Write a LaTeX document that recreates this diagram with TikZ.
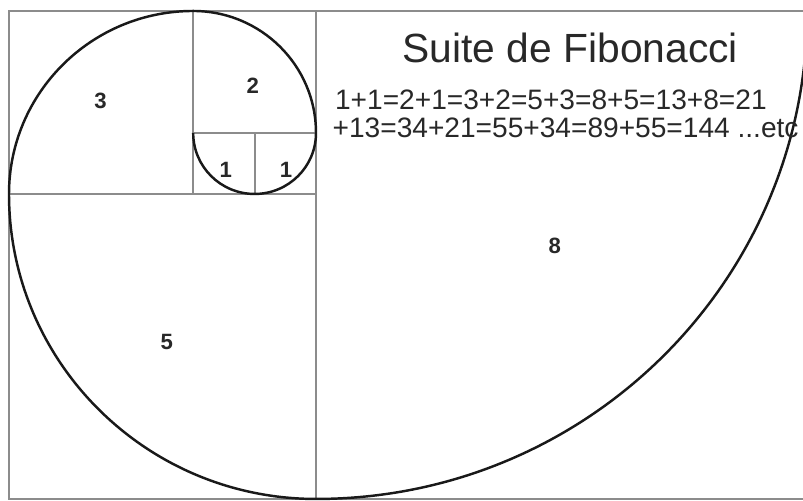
\documentclass[tikz,border=0pt]{standalone}
\usepackage{fontspec}
\setmainfont{Liberation Sans}
\definecolor{framegray}{RGB}{140,140,140}
\definecolor{inkgray}{RGB}{40,40,40}
\begin{document}
\begin{tikzpicture}[x=0.614cm,y=0.61cm,
  grid line/.style={draw=framegray,line width=0.6pt},
  spiral line/.style={draw=black!90,line width=0.7pt},
  sqlabel/.style={inner sep=0pt,text=inkgray,font=\fontsize{6.3}{7}\selectfont\bfseries},
  eqtext/.style={inner sep=0pt,anchor=base west,text=inkgray,font=\fontsize{8}{9.6}\selectfont},
  titletext/.style={inner sep=0pt,anchor=base west,text=inkgray,font=\fontsize{11.6}{14}\selectfont}]
\useasboundingbox (-0.1466,-0.0328) rectangle (12.932,8.180);
% squares
\draw[grid line] (0,0) rectangle (13,8);
\draw[grid line] (5,0) -- (5,8);
\draw[grid line] (0,5) -- (5,5);
\draw[grid line] (3,5) -- (3,8);
\draw[grid line] (3,6) -- (5,6);
\draw[grid line] (4,5) -- (4,6);
% spiral
\draw[spiral line] (13,8) arc[start angle=0,end angle=-90,radius=8]
  arc[start angle=-90,end angle=-180,radius=5]
  arc[start angle=180,end angle=90,radius=3]
  arc[start angle=90,end angle=0,radius=2]
  arc[start angle=0,end angle=-180,radius=1];
% square labels
\node[sqlabel] (l3) at (1.49,6.52) {3};
\node[sqlabel] (l2) at (3.97,6.77) {2};
\node[sqlabel] (l1a) at (3.53,5.39) {1};
\node[sqlabel] (l1b) at (4.51,5.39) {1};
\node[sqlabel] (l8) at (8.89,4.15) {8};
\node[sqlabel] (l5) at (2.57,2.57) {5};
% texts
\node[titletext] (title) at (6.40,7.15) {Suite de Fibonacci};
\node[eqtext] (eq1) at (5.30,6.38) {1+1=2+1=3+2=5+3=8+5=13+8=21};
\node[eqtext] (eq2) at (5.26,5.92) {+13=34+21=55+34=89+55=144 ...etc};
\end{tikzpicture}
\end{document}
